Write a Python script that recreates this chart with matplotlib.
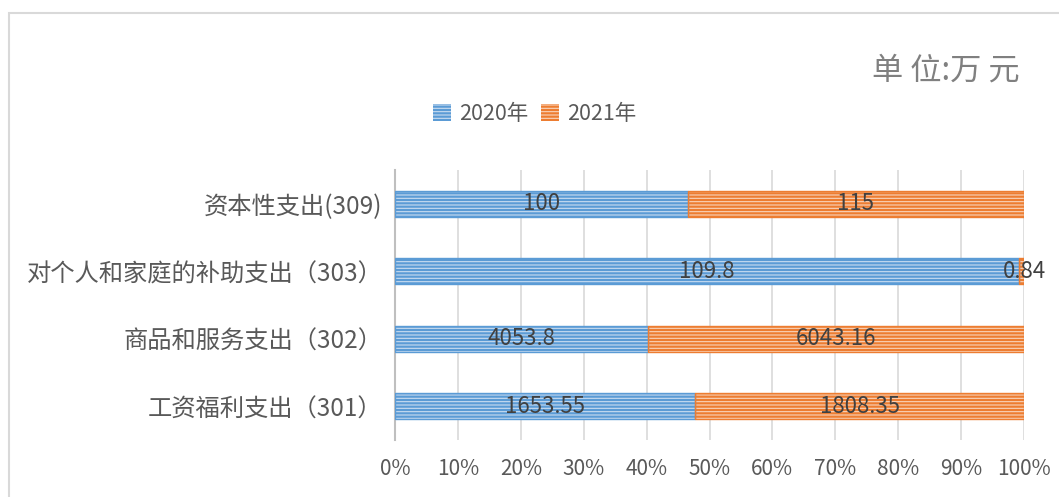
import matplotlib
matplotlib.use("Agg")
import matplotlib.pyplot as plt
from matplotlib.patches import Rectangle, Patch
import numpy as np

plt.rcParams['font.family'] = ['Noto Sans CJK SC', 'DejaVu Sans']
plt.rcParams['hatch.linewidth'] = 0.8

categories = ["工资福利支出（301）", "商品和服务支出（302）", "对个人和家庭的补助支出（303）", "资本性支出(309)"]
v2020 = [1653.55, 4053.8, 109.8, 100]
v2021 = [1808.35, 6043.16, 0.84, 115]
labels2020 = ["1653.55", "4053.8", "109.8", "100"]
labels2021 = ["1808.35", "6043.16", "0.84", "115"]
series_names = ["2020年", "2021年"]
xticks = [0, 10, 20, 30, 40, 50, 60, 70, 80, 90, 100]

blue = "#5B9BD5"
orange = "#ED7D31"
blue_hatch = "#C9DDF1"
orange_hatch = "#F9D5BD"

W, H = 1059, 497
fig = plt.figure(figsize=(W/100, H/100), dpi=100)
ax = fig.add_axes([395/W, 1-440/H, (1024-395)/W, (440-170)/H])

a = np.array(v2020, dtype=float)
b = np.array(v2021, dtype=float)
tot = a + b
pa = a / tot * 100
pb = b / tot * 100
y = np.arange(len(categories))
h = 0.39

ax.barh(y, pa, height=h, color=blue, edgecolor=blue_hatch, hatch="-----", linewidth=0, zorder=3)
ax.barh(y, pa, height=h, facecolor="none", edgecolor=blue, linewidth=1.0, zorder=4)
ax.barh(y, pb, left=pa, height=h, color=orange, edgecolor=orange_hatch, hatch="-----", linewidth=0, zorder=3)
ax.barh(y, pb, left=pa, height=h, facecolor="none", edgecolor=orange, linewidth=1.0, zorder=4)

for i in range(len(categories)):
    ax.text(pa[i]/2, y[i], labels2020[i], ha="center", va="center", fontsize=16, color="#404040", zorder=5)
    xb = pa[i] + pb[i]/2
    if pb[i] < 5:
        ax.text(100, y[i], labels2021[i], ha="center", va="center", fontsize=16, color="#404040", zorder=5)
    else:
        ax.text(xb, y[i], labels2021[i], ha="center", va="center", fontsize=16, color="#404040", zorder=5)

ax.set_xlim(0, 100)
ax.set_ylim(-0.5, len(categories)-0.5)
ax.set_xticks(xticks)
ax.set_xticklabels([f"{t}%" for t in xticks])
ax.set_yticks(y)
ax.set_yticklabels(categories)
ax.tick_params(axis='x', length=0, pad=13, labelsize=15, labelcolor="#595959")
ax.tick_params(axis='y', length=0, pad=9, labelsize=17.5, labelcolor="#595959")
ax.grid(axis='x', color="#D9D9D9", linewidth=1.2, zorder=0)
for s in ['top', 'right', 'bottom']:
    ax.spines[s].set_visible(False)
ax.spines['left'].set_color("#BFBFBF")
ax.spines['left'].set_linewidth(1.5)
ax.spines['left'].set_zorder(2)

handles = [Patch(facecolor=blue, edgecolor=blue_hatch, hatch="-----", linewidth=0),
           Patch(facecolor=orange, edgecolor=orange_hatch, hatch="-----", linewidth=0)]
fig.legend(handles, series_names, loc="center", bbox_to_anchor=(535/W, 1-114/H), ncol=2,
           frameon=False, fontsize=15.5, handlelength=0.8, handleheight=0.8, handletextpad=0.4,
           columnspacing=0.6, labelcolor="#595959")

fig.text(1020/W, 1-71/H, "单 位:万 元", ha="right", va="center", fontsize=22.5, color="#808080")

fig.patches.append(Rectangle((9/W, -0.1), 1.2, 1-13/H+0.1, transform=fig.transFigure,
                             facecolor="none", edgecolor="#D9D9D9", linewidth=1.5))

fig.savefig("out.png", dpi=100)
